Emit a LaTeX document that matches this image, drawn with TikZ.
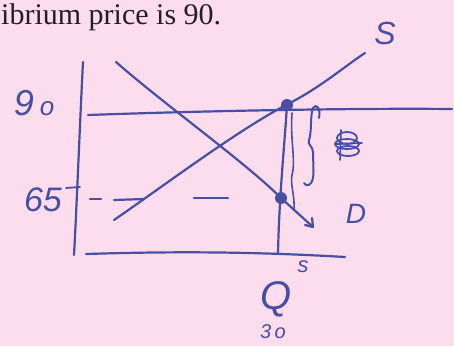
\documentclass[tikz,border=0pt]{standalone}
\usepackage{fontspec}
\setmainfont{Liberation Serif}
\newfontfamily\hand{Liberation Sans}
\definecolor{bgpink}{RGB}{252,221,238}
\definecolor{ink}{RGB}{72,78,160}
\definecolor{prt}{RGB}{35,30,40}
\begin{document}
\begin{tikzpicture}[x=1pt,y=-1pt,
  pen/.style={draw=ink,line width=2.2pt,line cap=round,line join=round},
  lbl/.style={text=ink,font=\hand,inner sep=0pt},
  dotm/.style={circle,fill=ink,inner sep=0pt,minimum size=12pt}]
\fill[bgpink] (0,0) rectangle (454,346);
\useasboundingbox (0,0) rectangle (454,346);
% printed text
\node[anchor=base west,text=prt,font=\fontsize{30}{32}\selectfont,inner sep=0pt] (title) at (1,24) {ibrium price is 90.};
% axes
\coordinate (ytop) at (83,62);
\coordinate (ybot) at (74,255);
\coordinate (xl) at (86,254);
\coordinate (xr) at (345,257);
\draw[pen] (ytop) .. controls (80,120) and (77,200) .. (ybot);
\draw[pen] (xl) .. controls (180,251) and (260,252) .. (xr);
% price line 90
\coordinate (p90l) at (88,115);
\coordinate (p90r) at (452,109);
\draw[pen] (p90l) .. controls (200,111) and (350,108) .. (p90r);
% demand
\coordinate (dtop) at (116,62);
\coordinate (dend) at (313,227);
\draw[pen] (dtop) .. controls (165,105) and (245,162) .. (281,198) -- (dend);
\draw[pen] (dend) -- ++(-1,-9);
\draw[pen] (dend) -- ++(-8,-2);
% supply
\coordinate (sbot) at (114,220);
\coordinate (stop) at (365,53);
\draw[pen] (sbot) .. controls (165,185) and (235,132) .. (286,105) .. controls (320,88) and (345,66) .. (stop);
% dots
\node[dotm] (e90) at (287,105) {};
\node[dotm] (e65) at (281,198) {};
% vertical Q line
\coordinate (qb) at (278,254);
\draw[pen] (e90) .. controls (284,150) and (279,200) .. (qb);
% second wavy stroke by the vertical line
\draw[pen,line width=1.6pt] (292,113) .. controls (290,140) and (296,160) .. (292,175) .. controls (290,185) and (295,195) .. (294,210);
% dashed 65
\coordinate (d1a) at (90,199);
\coordinate (d1b) at (101,199);
\coordinate (d2a) at (114,200);
\coordinate (d2b) at (144,199);
\coordinate (d3a) at (194,198);
\coordinate (d3b) at (228,198);
\draw[pen] (d1a) -- (d1b);
\draw[pen] (d2a) -- (d2b);
\draw[pen] (d3a) -- (d3b);
% brace
\draw[pen,line width=2pt] (319,118) .. controls (321,108) and (316,103) .. (313,108)
  .. controls (310,115) and (312,132) .. (309,140)
  .. controls (307,145) and (313,146) .. (313,152)
  .. controls (313,165) and (315,178) .. (311,183)
  .. controls (309,186) and (306,186) .. (304,183);
% scribble symbol
\coordinate (scr) at (347,144);
\draw[pen,line width=1.8pt] (scr) ellipse (12pt and 5pt);
\draw[pen,line width=1.8pt] (347,138) ellipse (10pt and 6pt);
\draw[pen,line width=1.8pt] (348,151) ellipse (11pt and 5pt);
\draw[pen,line width=1.8pt] (336,144) -- (362,143);
\draw[pen,line width=1.6pt] (341,130) -- (340,160);
% labels
\node[lbl,font=\hand\itshape] (l90) at (34,103) {\fontsize{36}{38}\selectfont 9\,\fontsize{26}{28}\selectfont o};
\node[lbl,font=\hand\fontsize{34}{36}\selectfont\itshape] (l65) at (43,200) {65};
\draw[pen,line width=1.8pt] (66,188) -- (80,187);
\node[lbl,font=\hand\fontsize{32}{34}\selectfont\itshape] (lS) at (385,33) {S};
\node[lbl,font=\hand\fontsize{28}{30}\selectfont\itshape] (lD) at (356,214) {D};
\node[lbl,font=\hand\fontsize{40}{42}\selectfont\itshape] (lQ) at (276,299) {Q};
\node[lbl,font=\hand\fontsize{22}{24}\selectfont\itshape] (ls) at (303,267) {s};
\node[lbl,font=\hand\fontsize{20}{22}\selectfont\itshape] (l30) at (273,332) {3\,o};
\end{tikzpicture}
\end{document}
